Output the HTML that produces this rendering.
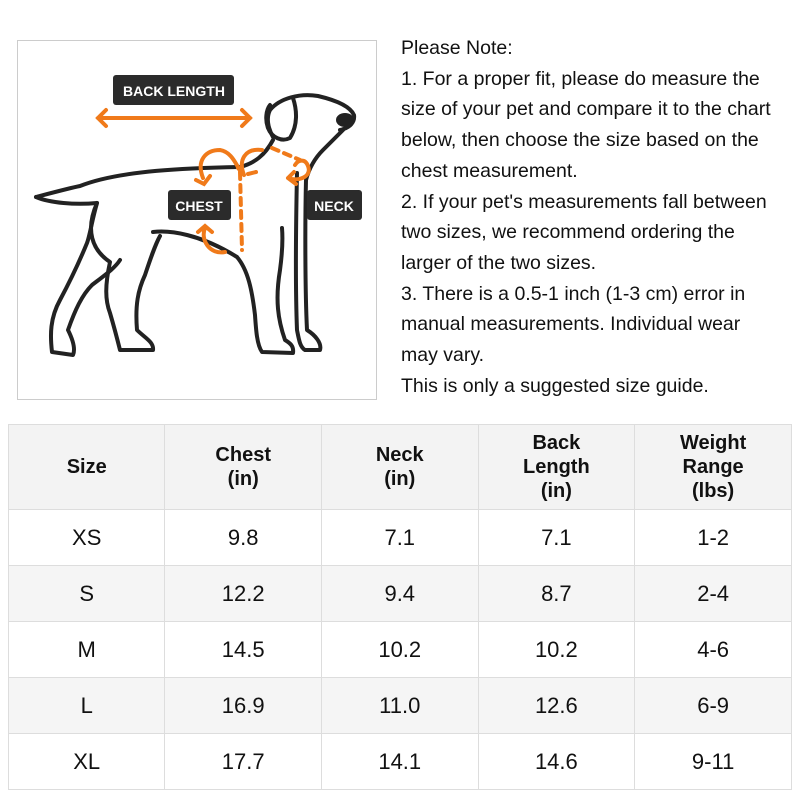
<!DOCTYPE html>
<html><head><style>
body{margin:0;width:800px;height:800px;background:#fff;position:relative;overflow:hidden;font-family:"Liberation Sans","Noto Sans CJK SC",sans-serif;color:#111}
.box{position:absolute;left:17px;top:40px;width:360px;height:360px;border:1.5px solid #ccc;box-sizing:border-box}
.note{position:absolute;left:401px;top:33px;font-size:19.5px;line-height:30.7px;color:#111;white-space:nowrap}
table{position:absolute;left:8px;top:424px;border-collapse:collapse;width:784px}
td{border:1.5px solid #ddd;text-align:center;width:156.8px;font-size:22px;height:55px;padding:0}
tr.h td{height:84px;font-weight:bold;font-size:20px;line-height:24px;background:#f3f3f3}
tr.g td{background:#f5f5f5}
</style></head><body>
<div class="box"></div>
<svg style="position:absolute;left:0;top:0" width="400" height="410">
<g fill="none" stroke="#222" stroke-width="4" stroke-linecap="round" stroke-linejoin="round">
<path d="M36,197 C55,192 70,188 80,186 C120,170 190,168 240,167 C255,163 265,155 273,140"/>
<path d="M36,197 C50,203 75,205 97,203 C92,220 90,235 87,243 C78,265 68,285 60,300 C50,318 50,335 52,352 L73,355 C76,348 72,338 68,330 C75,310 82,295 92,285 C105,275 115,268 120,260"/>
<path d="M97,203 C85,230 92,250 110,262 C105,285 105,300 110,313 C115,330 118,342 120,350 L153,350 C154,342 145,338 137,330 C135,305 138,290 145,275 C150,260 155,245 160,236"/>
<path d="M153,232 C170,230 200,234 237,257 C248,270 252,290 255,315 C256,330 257,345 262,352 L293,353 C294,346 290,343 285,340 C278,320 275,300 280,270 C282,255 283,240 282,228"/>
<path d="M297,173 C296,220 295,280 297,330 C299,340 300,347 305,350 L320,350 C322,343 315,335 307,330 C305,290 305,220 306,180 C310,165 318,155 323,150 C330,143 338,135 343,130"/>
<path d="M273,137 C268,128 266,118 270,110 C280,98 300,93 318,96 C335,100 350,106 354,115 C355,122 350,128 340,130"/>
<path d="M293,98 C297,110 298,125 290,138 C282,142 272,138 268,128 C265,120 266,110 270,105"/>
</g>
<ellipse cx="345" cy="120" rx="9" ry="7" fill="#222"/>
<g fill="none" stroke="#f07a1a" stroke-width="4" stroke-linecap="round">
<path d="M98,118 L250,118 M106,110 L98,118 L106,126 M242,110 L250,118 L242,126"/>
<path d="M203,178 C196,160 206,150 220,150 C232,152 236,165 240,170"/>
<path d="M196,180 L204,184 L210,176"/>
<path d="M205,228 C200,240 210,255 225,252"/>
<path d="M198,232 L205,226 L212,232"/>
<path d="M244,175 C238,160 245,148 262,150 M248,174 L256,172 M244,175 L238,168"/>
<path d="M288,178 C300,182 312,176 308,166 C305,158 298,160 295,165 M288,178 L294,172 M288,178 L296,184"/>
<path d="M240,172 L242,250" stroke-dasharray="7 6"/>
<path d="M272,148 L300,160" stroke-dasharray="7 6"/>
</g>
<rect x="113" y="75" width="121" height="30" rx="3" fill="#2b2b2b"/>
<rect x="168" y="190" width="63" height="30" rx="3" fill="#2b2b2b"/>
<rect x="307" y="190" width="55" height="30" rx="3" fill="#2b2b2b"/>
<g fill="#fff" font-family="Liberation Sans, sans-serif" font-weight="bold" font-size="14" text-anchor="middle">
<text x="174" y="96">BACK LENGTH</text><text x="199" y="211">CHEST</text><text x="334" y="211">NECK</text>
</g>
</svg>
<div class="note">Please Note:<br>1. For a proper fit, please do measure the<br>size of your pet and compare it to the chart<br>below, then choose the size based on the<br>chest measurement.<br>2. If your pet's measurements fall between<br>two sizes, we recommend ordering the<br>larger of the two sizes.<br>3. There is a 0.5-1 inch (1-3 cm) error in<br>manual measurements. Individual wear<br>may vary.<br>This is only a suggested size guide.</div>
<table>
<tr class="h"><td>Size</td><td>Chest<br>(in)</td><td>Neck<br>(in)</td><td>Back<br>Length<br>(in)</td><td>Weight<br>Range<br>(lbs)</td></tr>
<tr><td>XS</td><td>9.8</td><td>7.1</td><td>7.1</td><td>1-2</td></tr>
<tr class="g"><td>S</td><td>12.2</td><td>9.4</td><td>8.7</td><td>2-4</td></tr>
<tr><td>M</td><td>14.5</td><td>10.2</td><td>10.2</td><td>4-6</td></tr>
<tr class="g"><td>L</td><td>16.9</td><td>11.0</td><td>12.6</td><td>6-9</td></tr>
<tr><td>XL</td><td>17.7</td><td>14.1</td><td>14.6</td><td>9-11</td></tr>
</table>
</body></html>
